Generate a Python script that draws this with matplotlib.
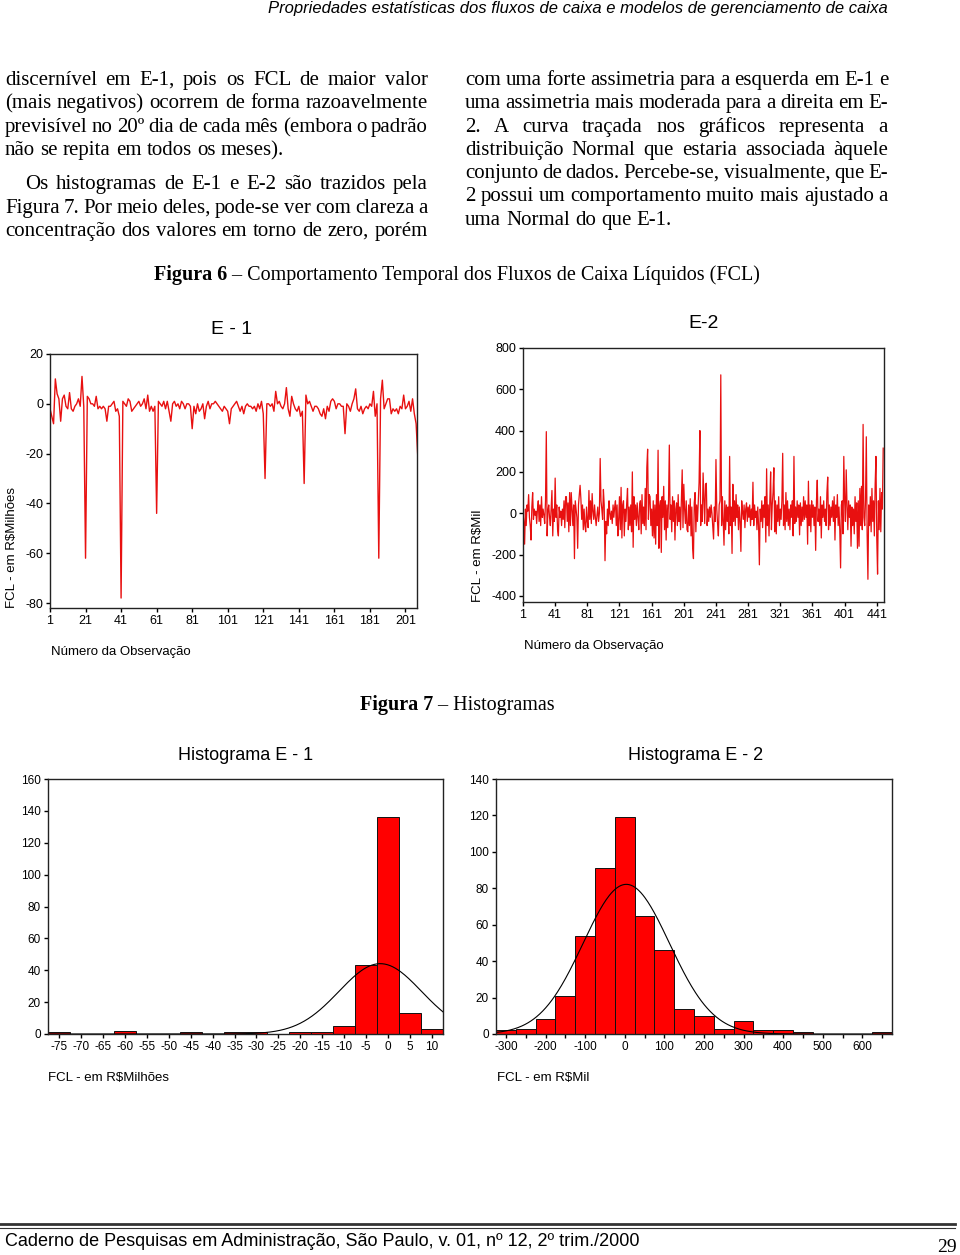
import numpy as np
import matplotlib
matplotlib.use('Agg')
import matplotlib.pyplot as plt

plt.rcParams['axes.unicode_minus'] = False

# ---- dados ----
e1_fcl = [-2, -5, -8, 10, 4, 2, -7, 2, 3.5, -1,
          -2, 4.5, -2, -3, -1, 0, 2, -1, 11, -1,
          -62, 3, 2, 0, 0, -1, 3, -2, -1, -2,
          -1, -2, -7, -1, -1, 0, 1, -3, -2, -5,
          -78, 1, 0, -1, 2, 1, -3, -2, -1, 0,
          1, -1, 0, 2, -2, 3.5, -3, -1, -3, -1,
          -44, 1, 0, -1, 1, -2, 1, -3, -7, 0,
          1, -1, 0, -2, 1, 0, -2, 0, 0, -1,
          -10, -1, -4, 0, -3, -2, 0, -6, -1, 1,
          -2, 0, 0, 1, 0, -1, -2, -3, -1, -2,
          -3, -8, -2, -1, 0, 1, -1, -3, -1, -4,
          -1, 0, -1, -1, -2, -1, -3, 0, -2, 1,
          -4, -30, 0, 0, -1, 0, -3, 5, 0, 1,
          -1, -2, 0, 6.5, -2, -5, 3, 0, -2, -3,
          -1, -5, -3, -32, 3.5, 0, 1, -1, -3, -1,
          -1, -2, -4, -5, -2, -6, -1, -3, 1, 2,
          1, -2, 0, 0, -1, -1, -12, 0, -1, -3,
          0, 2, 6, -2, -3, -1, -4, -2, -1, -2,
          0, -1, 5, -5, 0, -62, 2, 9.5, -2, 0,
          2, 2, -4, -2, -3, -2, -4, -1, -2, 3.5,
          -2, -1, 1, -3, 2, -4, -8, -22]

e2_fcl = [0, -40, -150, 20, -60, 40, 10, 90, -20, -60, -130, 30, 100, -30, 20,
          -10, 10, -50, 20, 60, -40, 40, -60, 80, -20, 20, -10, -50, 60, 395,
          -110, 10, 40, -20, -60, 30, 110, -110, 20, -40, 170, -20, 40, -80, -110,
          30, -20, 10, -60, 20, -30, 60, -70, 80, 80, -40, 50, -90, 100, -60,
          100, 20, -60, 40, -220, 60, 20, -20, -170, 40, 90, 135, 70, -30, 40,
          -80, 20, -60, -90, 30, -40, -70, 110, -30, 60, -50, 95, 10, -30, 40,
          -20, -60, -10, 30, -40, 0, 265, 60, 20, -30, 115, 40, -230, -40, -100,
          20, -60, 60, 0, -30, 10, -50, 40, -20, 30, 60, -60, 40, -110, -30,
          80, -80, 125, -120, 40, 60, -110, 20, -40, 50, 120, -80, 30, -60, 40,
          -90, 200, -165, 80, -30, 40, -60, 50, -20, -80, 40, 60, -100, 90, -50,
          30, -60, 120, -80, 220, 310, -30, 90, 80, -60, 20, -110, 60, -120, 40,
          -150, 90, -60, 305, -170, 30, 60, -190, 80, -20, 130, -80, 60, -130, 40,
          -70, 60, 330, -30, 40, -90, 80, -40, 60, -130, 20, 50, -60, 90, -40,
          30, -80, 60, 210, -70, 140, 20, -50, 60, -80, -90, 40, -60, 70, -110,
          30, -170, -220, 50, 100, -90, 40, -40, 60, 150, 400, -60, 40, -40, 195,
          80, -50, 140, 145, -60, 20, -40, 30, -20, 40, 0, -60, -125, 30, -40,
          260, 20, -50, -110, 40, 60, 670, -60, 80, -30, -155, 60, -80, 40, -40,
          30, -100, 275, -60, 30, -195, 140, -40, 60, -60, 90, -20, 40, -80, 30,
          -40, -185, 60, 10, -30, 40, -70, 20, 50, -40, 30, -20, 40, -60, 20,
          -30, 150, -60, 40, -20, 10, -80, 30, -60, -250, 20, -40, 60, -70, 40,
          -20, 80, -140, 215, -60, 40, -110, 60, 200, -80, 40, 100, 220, -90, 60,
          -100, 40, -40, 80, -60, 20, -30, 60, 290, -60, 40, -80, 100, -40, 60,
          -60, 20, -80, 40, -20, 60, -110, 275, -50, 30, -40, 60, -20, 40, -105,
          50, -60, 30, -40, 80, -30, 60, -20, 40, -150, 155, -60, 40, -90, 60,
          -20, 40, -60, 30, -180, 60, 160, -40, 20, -60, 80, -120, 40, -20, 60,
          -40, 20, -60, 100, 175, -80, 40, -60, 30, -20, 60, -40, 80, -130, 40,
          -20, 90, -60, 30, -80, -265, 40, 60, -100, 275, 60, -40, 210, 40, -80,
          60, -20, 40, -160, 30, -60, 20, -100, 80, -40, 50, -170, 60, -160, 120,
          -60, 130, -80, 430, -20, -60, 60, 370, -100, -320, 40, -60, 80, -90, 120,
          -40, 60, -110, 140, 275, -120, -295, 60, -80, 120, -90, 100, 20, 315]

h1_centros = [-75, -60, -45, -35, -30, -20, -15, -10, -5, 0, 5, 10]
h1_freq = [1, 2, 1, 1, 1, 1, 1, 5, 43, 136, 13, 3]
h1_media, h1_dp = -1.8, 9.4

h2_centros = [-300, -250, -200, -150, -100, -50, 0, 50, 100, 150, 200, 250, 300, 350, 400, 450, 650]
h2_freq = [2, 3, 8, 21, 54, 91, 119, 65, 46, 14, 10, 3, 7, 2, 2, 1, 1]
h2_media, h2_dp = 4, 109

col_esq = ["discernível em E-1, pois os FCL de maior valor",
           "(mais negativos) ocorrem de forma razoavelmente",
           "previsível no 20º dia de cada mês (embora o padrão",
           "não se repita em todos os meses).",
           "Os histogramas de E-1 e E-2 são trazidos pela",
           "Figura 7. Por meio deles, pode-se ver com clareza a",
           "concentração dos valores em torno de zero, porém"]
col_dir = ["com uma forte assimetria para a esquerda em E-1 e",
           "uma assimetria mais moderada para a direita em E-",
           "2.  A curva traçada nos gráficos representa a",
           "distribuição Normal que estaria associada àquele",
           "conjunto de dados. Percebe-se, visualmente, que E-",
           "2 possui um comportamento muito mais ajustado a",
           "uma Normal do que E-1."]

W, H = 960, 1255
fig = plt.figure(figsize=(9.6, 12.55), dpi=100)
bg = fig.add_axes([0, 0, 1, 1])
bg.set_xlim(0, W)
bg.set_ylim(H, 0)
bg.axis('off')
rend = fig.canvas.get_renderer()

SERIF = 'Liberation Serif'
SANS = 'Liberation Sans'
RED = '#e81010'


def linha(txt, x0, x1, yb, size, justify=True):
    words = txt.split()
    arts = [bg.text(0, yb, w, fontsize=size, family=SERIF, va='baseline', ha='left') for w in words]
    ws = [a.get_window_extent(rend).width for a in arts]
    gap = size * 0.25 * 100 / 72
    if justify and len(words) > 1:
        gap = (x1 - x0 - sum(ws)) / (len(words) - 1)
    x = x0
    for a, w in zip(arts, ws):
        a.set_x(x)
        x += w + gap


def legenda(bold, rest, xc, yb, size):
    a = bg.text(0, yb, bold, fontsize=size, family=SERIF, weight='bold', va='baseline')
    b = bg.text(0, yb, rest, fontsize=size, family=SERIF, va='baseline')
    wa = a.get_window_extent(rend).width
    wb = b.get_window_extent(rend).width
    x0 = xc - (wa + wb) / 2
    a.set_x(x0)
    b.set_x(x0 + wa)


def eixo(l, t, r, b):
    ax = fig.add_axes([l / W, 1 - b / H, (r - l) / W, (b - t) / H])
    for s in ax.spines.values():
        s.set_color('#222222')
        s.set_linewidth(1.0)
    ax.tick_params(direction='out', length=3, width=1, labelsize=9, pad=2)
    return ax


# cabecalho
bg.text(888, 8, "Propriedades estatísticas dos fluxos de caixa e modelos de gerenciamento de caixa",
        fontsize=12, family=SANS, style='italic', ha='right', va='center')

# texto em duas colunas
ys_esq = [79, 102, 126, 149, 183, 207, 230]
for i, t in enumerate(col_esq):
    x0 = 25 if i == 4 else 5
    linha(t, x0, 428, ys_esq[i] + 6, 15, justify=(i != 3))
ys_dir = [79, 102, 126, 149, 172, 195, 219]
for i, t in enumerate(col_dir):
    linha(t, 465, 888, ys_dir[i] + 6, 15, justify=(i != 6))

legenda("Figura 6", " – Comportamento Temporal dos Fluxos de Caixa Líquidos (FCL)", 457, 280, 14.5)
legenda("Figura 7", " – Histogramas", 457, 710, 14.5)

# E-1
ax1 = eixo(50, 354, 417, 608)
obs1 = np.arange(1, len(e1_fcl) + 1)
ax1.plot(obs1, e1_fcl, color=RED, lw=1.0)
ax1.set_xlim(1, 207.5)
ax1.set_ylim(-82, 20)
ax1.set_xticks(range(1, 202, 20))
ax1.set_yticks([20, 0, -20, -40, -60, -80])
bg.text(232, 330, "E - 1", fontsize=14, family=SANS, ha='center', va='center')
bg.text(51, 652, "Número da Observação", fontsize=9.5, family=SANS, ha='left', va='center')
bg.text(12, 608, "FCL - em R$Milhões", fontsize=9.5, family=SANS, rotation=90, ha='center', va='bottom')

# E-2
ax2 = eixo(523, 348, 884, 602)
obs2 = np.arange(1, len(e2_fcl) + 1)
ax2.plot(obs2, e2_fcl, color=RED, lw=0.9)
ax2.set_xlim(1, 450)
ax2.set_ylim(-430, 800)
ax2.set_xticks(range(1, 442, 40))
ax2.set_yticks(range(800, -401, -200))
bg.text(704, 324, "E-2", fontsize=14, family=SANS, ha='center', va='center')
bg.text(524, 646, "Número da Observação", fontsize=9.5, family=SANS, ha='left', va='center')
bg.text(478, 602, "FCL - em R$Mil", fontsize=9.5, family=SANS, rotation=90, ha='center', va='bottom')

# Histograma E-1
ax3 = eixo(48, 779, 443, 1034)
ax3.bar(h1_centros, h1_freq, width=5, color='#ff0000', edgecolor='#111111', linewidth=0.7)
xx = np.linspace(-77.5, 12.5, 300)
ax3.plot(xx, sum(h1_freq) * 5 * np.exp(-0.5 * ((xx - h1_media) / h1_dp) ** 2) / (h1_dp * np.sqrt(2 * np.pi)),
         color='black', lw=0.8)
ax3.set_xlim(-77.5, 12.5)
ax3.set_ylim(0, 160)
ax3.set_xticks(range(-75, 11, 5))
ax3.set_yticks(range(0, 161, 20))
ax3.tick_params(labelsize=8.5)
bg.text(246, 755, "Histograma E - 1", fontsize=13, family=SANS, ha='center', va='center')
bg.text(48, 1078, "FCL - em R$Milhões", fontsize=9.5, family=SANS, ha='left', va='center')

# Histograma E-2
ax4 = eixo(496, 779, 892, 1034)
ax4.bar(h2_centros, h2_freq, width=50, color='#ff0000', edgecolor='#111111', linewidth=0.7)
xx = np.linspace(-325, 675, 400)
ax4.plot(xx, sum(h2_freq) * 50 * np.exp(-0.5 * ((xx - h2_media) / h2_dp) ** 2) / (h2_dp * np.sqrt(2 * np.pi)),
         color='black', lw=0.8)
ax4.set_xlim(-325, 675)
ax4.set_ylim(0, 140)
ax4.set_xticks(range(-300, 601, 100))
ax4.set_xticks(range(-250, 651, 100), minor=True)
ax4.tick_params(which='minor', direction='out', length=3, width=1)
ax4.set_yticks(range(0, 141, 20))
ax4.tick_params(labelsize=8.5)
bg.text(696, 755, "Histograma E - 2", fontsize=13, family=SANS, ha='center', va='center')
bg.text(497, 1078, "FCL - em R$Mil", fontsize=9.5, family=SANS, ha='left', va='center')

for ax in (ax1, ax2, ax3, ax4):
    for lab in ax.get_xticklabels() + ax.get_yticklabels():
        lab.set_family(SANS)

# rodape
bg.plot([0, 955], [1224, 1224], color='#333333', lw=2.0)
bg.plot([0, 955], [1228, 1228], color='#333333', lw=0.8)
bg.text(5, 1241, "Caderno de Pesquisas em Administração, São Paulo, v. 01, nº 12, 2º trim./2000",
        fontsize=13, family=SANS, ha='left', va='center')
bg.text(957, 1247, "29", fontsize=14, family=SERIF, ha='right', va='center')

fig.savefig('out.png', dpi=100)
